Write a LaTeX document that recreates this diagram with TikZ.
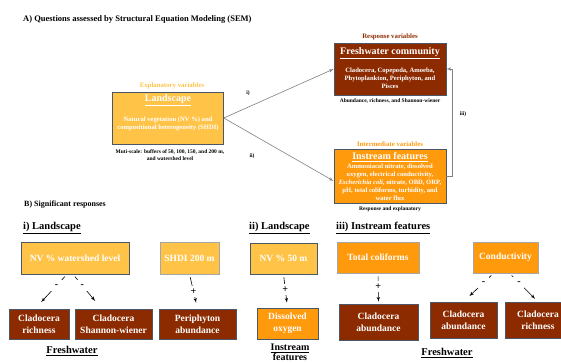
\documentclass[tikz,border=0pt]{standalone}
\usepackage{fontspec}
\setmainfont{Liberation Serif}
\usetikzlibrary{arrows}
\usetikzlibrary{positioning}
\definecolor{landyellow}{HTML}{FFC347}
\definecolor{streamorange}{HTML}{FF9A0D}
\definecolor{fwbrown}{HTML}{8C2A00}
\definecolor{boxedge}{HTML}{4A5766}
\definecolor{linkgray}{HTML}{808080}
\tikzset{varbox/.style = {draw=boxedge, line width=0.6pt, inner sep=0pt,
                          text=white, align=center,
                          font=\fontsize{9.5}{12}\selectfont\bfseries},
         ybox/.style = {varbox, fill=landyellow},
         obox/.style = {varbox, fill=streamorange},
         bbox/.style = {varbox, fill=fwbrown},
         boxtitle/.style = {inner sep=0pt, text=white,
                            font=\fontsize{10}{12}\selectfont\bfseries},
         boxbody/.style = {inner sep=0pt, text=white, align=center,
                           font=\fontsize{6.6}{8}\selectfont\bfseries},
         vartag/.style = {inner sep=0pt, font=\fontsize{6.8}{8}\selectfont\bfseries},
         note/.style = {inner sep=0pt, align=center,
                        font=\fontsize{5.5}{6.5}\selectfont\bfseries},
         head/.style = {inner sep=0pt, anchor=west, align=center,
                        font=\fontsize{10.5}{12}\selectfont\bfseries},
         pathline/.style = {draw=linkgray, line width=0.6pt, -latex'},
         sigarrow/.style = {draw=black, line width=0.6pt, -latex',
                            shorten <=3pt},
         sign/.style = {fill=white, inner sep=0pt, minimum size=11pt,
                        font=\fontsize{10}{10}\selectfont\bfseries}}
\begin{document}
\begin{tikzpicture}[x=1pt, y=-1pt]
  \useasboundingbox (0,0) rectangle (561,363);
  \node [anchor=west, inner sep=0pt, font=\fontsize{8.5}{10}\selectfont\bfseries] (titleA) at (23,19)
    {A) Questions assessed by Structural Equation Modeling (SEM)};

  \node [ybox, minimum width=111pt, minimum height=52pt] (land) at (168,118) {};
  \node [boxtitle] (landT) at (168,100) {\underline{Landscape}};
  \node [boxbody] (landB) at (168,124) {Natural vegetation (NV \%) and\\compositional heterogeneity (SHDI)};
  \node [vartag, text=landyellow] (landtag) at (172,86) {Explanatory variables};
  \node [note] (landnote) at (170,155) {Muti-scale: buffers of 50, 100, 150, and 200 m,\\and watershed level};

  \node [bbox, minimum width=112pt, minimum height=52pt] (fresh) at (390,69) {};
  \node [boxtitle] (freshT) at (390,53) {\underline{Freshwater community}};
  \node [boxbody] (freshB) at (390,78) {Cladocera, Copepoda, Amoeba,\\Phytoplankton, Periphyton, and\\Pisces};
  \node [vartag, text=fwbrown] (freshtag) at (390,37) {Response variables};
  \node [note] (freshnote) at (390,101) {Abundance, richness, and Shannon-wiener};

  \node [obox, minimum width=112pt, minimum height=54pt] (inst) at (390,176) {};
  \node [boxtitle] (instT) at (390,157) {\underline{Instream features}};
  \node [boxbody] (instB) at (390,182) {Ammoniacal nitrate, dissolved\\oxygen, electrical conductivity,\\
    \textit{Escherichia coli}, nitrate, OBD, ORP,\\pH, total coliforms, turbidity, and\\water flux};
  \node [vartag, text=streamorange] (insttag) at (390,144) {Intermediate variables};
  \node [note] (instnote) at (390,209) {Response and explanatory};

  \draw [pathline] (land.east) -- (fresh.west);
  \draw [pathline] (land.east) -- ([yshift=-5pt]inst.west);
  \draw [pathline] (inst.east) -- ++(6,0) |- (fresh.east);
  \node [note] (qi) at (248,93) {i)};
  \node [note] (qii) at (252,156) {ii)};
  \node [note] (qiii) at (463,114) {iii)};

  \node [anchor=west, inner sep=0pt, font=\fontsize{8}{10}\selectfont\bfseries] (titleB) at (24,205)
    {B) Significant responses};
  \node [head] (headi) at (23,228) {\underline{i) Landscape}};
  \node [head] (headii) at (249,228) {\underline{ii) Landscape}};
  \node [head] (headiii) at (336,228) {\underline{iii) Instream features}};

  \node [ybox, minimum width=108pt, minimum height=32pt] (nvws) at (75,258) {NV \% watershed level};
  \node [ybox, draw=gray!70, minimum width=59pt, minimum height=32pt] (shdi) at (189.5,258) {SHDI 200 m};
  \node [ybox, minimum width=67pt, minimum height=31pt] (nvfifty) at (283.5,258.5) {NV \% 50 m};
  \node [obox, draw=gray!70, minimum width=82pt, minimum height=31pt] (tcol) at (378,257.5) {Total coliforms};
  \node [obox, draw=gray!70, minimum width=65pt, minimum height=31pt] (cond) at (505.5,257.5) {Conductivity};

  \node [bbox, minimum width=60pt, minimum height=30pt] (clrich) at (39,324) {Cladocera\\richness};
  \node [bbox, minimum width=77pt, minimum height=30pt] (clshan) at (113.5,324) {Cladocera\\Shannon-wiener};
  \node [bbox, minimum width=77pt, minimum height=30pt] (periab) at (197.5,324) {Periphyton\\abundance};
  \node [obox, minimum width=61pt, minimum height=31pt] (doxy) at (287.5,323.5) {Dissolved\\oxygen};
  \node [bbox, minimum width=79pt, minimum height=36pt] (clabA) at (378.5,322) {Cladocera\\abundance};
  \node [bbox, minimum width=67pt, minimum height=36pt] (clabB) at (463.5,320) {Cladocera\\abundance};
  \node [bbox, minimum width=66pt, minimum height=36pt] (clrichB) at (538,320) {Cladocera\\richness};

  \draw [sigarrow, shorten >=9pt] ([xshift=-8pt]nvws.south) -- node [sign, pos=0.33] {-} ([xshift=-4pt]clrich.north);
  \draw [sigarrow, shorten >=10pt] ([xshift=-2pt]nvws.south) -- node [sign, pos=0.33] {-} ([xshift=-12pt]clshan.north);
  \draw [sigarrow, shorten >=6pt] (shdi.south) -- node [sign, pos=0.5] {+} (periab.north);
  \draw [sigarrow, shorten >=5pt] (nvfifty.south) -- node [sign, pos=0.45] {+} (doxy.north);
  \draw [sigarrow, shorten >=2pt] (tcol.south) -- node [sign, pos=0.45] {+} (clabA.north);
  \draw [sigarrow, shorten >=8pt] ([xshift=-12pt]cond.south) -- node [sign, pos=0.33] {-} (clabB.north);
  \draw [sigarrow, shorten >=4pt] ([xshift=4pt]cond.south) -- node [sign, pos=0.33] {-} (clrichB.north);

  \node [head, anchor=center] (fwi) at (72,351) {\underline{Freshwater}};
  \node [head, anchor=center, font=\fontsize{10}{10.5}\selectfont\bfseries] (instii) at (290,352.5) {\underline{Instream}\\features};
  \node [head, anchor=center] (fwiii) at (447,353) {\underline{Freshwater}};
\end{tikzpicture}
\end{document}
